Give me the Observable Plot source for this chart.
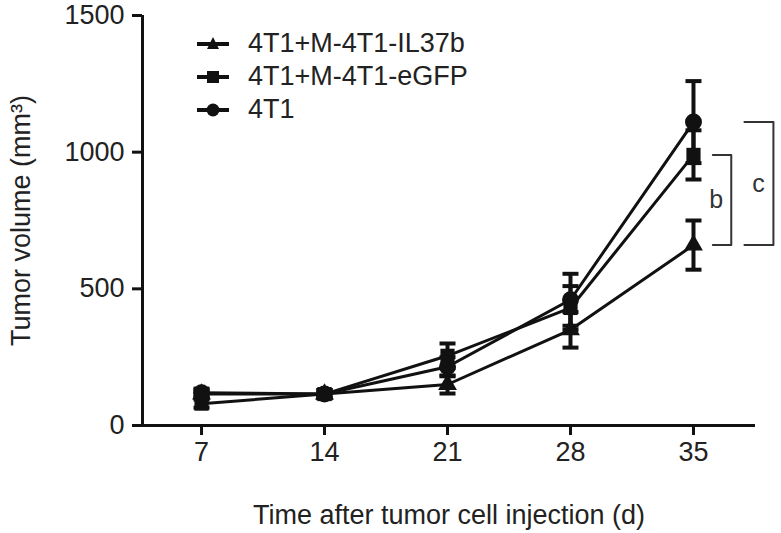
<!DOCTYPE html>
<html>
<head>
<meta charset="utf-8">
<script src="https://cdn.jsdelivr.net/npm/d3@7"></script>
<script src="https://cdn.jsdelivr.net/npm/@observablehq/plot@0.6"></script>
<style>
  html, body { margin: 0; padding: 0; background: #fff; }
  #wrap { position: relative; width: 781px; height: 533px; font-family: "Liberation Sans", Arial, sans-serif; color: #222; }
  #legend { position: absolute; left: 197px; top: 27px; }
  .row { display: flex; align-items: center; height: 33px; font-size: 27px; line-height: 33px; white-space: nowrap; }
  .row svg { width: 32px; height: 24px; margin-right: 19px; }
</style>
</head>
<body>
<div id="wrap"></div>
<script>
// ---- data ----
const days = [7, 14, 21, 28, 35];
const seriesNames = ["4T1+M-4T1-IL37b", "4T1+M-4T1-eGFP", "4T1"];
const il37bMean = [115, 115, 150, 350, 660];
const il37bErr  = [15, 15, 33, 65, 90];
const egfpMean  = [80, 115, 255, 430, 990];
const egfpErr   = [15, 15, 45, 80, 90];
const t4Mean    = [120, 115, 215, 460, 1110];
const t4Err     = [15, 15, 35, 95, 150];
const yTicks = [0, 500, 1000, 1500];
const xLabel = "Time after tumor cell injection (d)";
const yLabel = "Tumor volume (mm³)";
const sigLabels = ["b", "c"];

const symbols = ["triangle", "square", "circle"];
const symbolR = { triangle: 7, square: 8, circle: 8.5 };
const means = [il37bMean, egfpMean, t4Mean];
const errs = [il37bErr, egfpErr, t4Err];
const rows = [];
seriesNames.forEach((s, i) => days.forEach((d, j) => rows.push({
  series: s, symbol: symbols[i], day: d, mean: means[i][j], err: errs[i][j]
})));

const xDomain = [3.64, 38.53];
const cap = { draw(ctx, size) { const w = Math.sqrt(size / Math.PI); ctx.moveTo(-w, 0); ctx.lineTo(w, 0); } };

// significance brackets (annotation) built from day-35 means
const last = days.length - 1;
const bracketB = { x1: 36.1, x2: 37.15, top: egfpMean[last], bot: il37bMean[last], lx: 36.3, label: sigLabels[0] };
const bracketC = { x1: 37.9, x2: 39.55, top: t4Mean[last], bot: il37bMean[last], lx: 38.7, label: sigLabels[1] };
const bracketPts = b => [[b.x1, b.top], [b.x2, b.top], [b.x2, b.bot], [b.x1, b.bot]];

const chart = Plot.plot({
  width: 781, height: 533,
  marginLeft: 142, marginRight: 26, marginTop: 15, marginBottom: 108,
  x: { domain: xDomain },
  y: { domain: [0, 1500] },
  r: { type: "identity" },
  style: { fontFamily: "'Liberation Sans', Arial, sans-serif", fontSize: "27px", color: "#222", background: "white", overflow: "visible" },
  marks: [
    Plot.axisX({ ticks: days, tickSize: 10, tickPadding: 6, strokeWidth: 3, stroke: "#111", label: xLabel, labelAnchor: "center", labelOffset: 98, labelArrow: "none" }),
    Plot.axisY({ ticks: yTicks, tickFormat: d3.format("d"), tickSize: 10, tickPadding: 8, strokeWidth: 3, stroke: "#111", label: yLabel, labelAnchor: "center", labelOffset: 132, labelArrow: "none" }),
    Plot.ruleY([0], { strokeWidth: 3, stroke: "#111" }),
    Plot.ruleX([xDomain[0]], { y1: 0, y2: 1500, strokeWidth: 3, stroke: "#111" }),
    Plot.line(rows, { x: "day", y: "mean", z: "series", stroke: "#111", strokeWidth: 3 }),
    Plot.ruleX(rows, { x: "day", y1: d => d.mean - d.err, y2: d => d.mean + d.err, stroke: "#111", strokeWidth: 4 }),
    Plot.dot(rows, { x: "day", y: d => d.mean + d.err, symbol: () => cap, r: 8, stroke: "#111", strokeWidth: 4, fill: "none" }),
    Plot.dot(rows, { x: "day", y: d => d.mean - d.err, symbol: () => cap, r: 8, stroke: "#111", strokeWidth: 4, fill: "none" }),
    Plot.dot(rows, { x: "day", y: "mean", symbol: "symbol", r: d => symbolR[d.symbol], fill: "#111", stroke: "none" }),
    Plot.line(bracketPts(bracketB), { stroke: "#333", strokeWidth: 2 }),
    Plot.line(bracketPts(bracketC), { stroke: "#333", strokeWidth: 2 }),
    Plot.text([bracketB, bracketC], { x: "lx", y: d => (d.top + d.bot) / 2, text: "label", fontSize: 25, fill: "#333" })
  ]
});
chart.style.display = "block";

const wrap = document.getElementById("wrap");
wrap.appendChild(chart);

// legend
const legend = document.createElement("div");
legend.id = "legend";
const shapes = {
  triangle: '<path d="M16,5 L22,17 L10,17 Z" fill="#111"/>',
  square: '<rect x="10" y="6" width="12" height="12" fill="#111"/>',
  circle: '<circle cx="16" cy="12" r="6.5" fill="#111"/>'
};
seriesNames.forEach((s, i) => {
  const row = document.createElement("div");
  row.className = "row";
  row.innerHTML = `<svg viewBox="0 0 32 24"><line x1="0" y1="12" x2="32" y2="12" stroke="#111" stroke-width="4"/>${shapes[symbols[i]]}</svg><span>${s}</span>`;
  legend.appendChild(row);
});
wrap.appendChild(legend);
</script>
</body>
</html>
